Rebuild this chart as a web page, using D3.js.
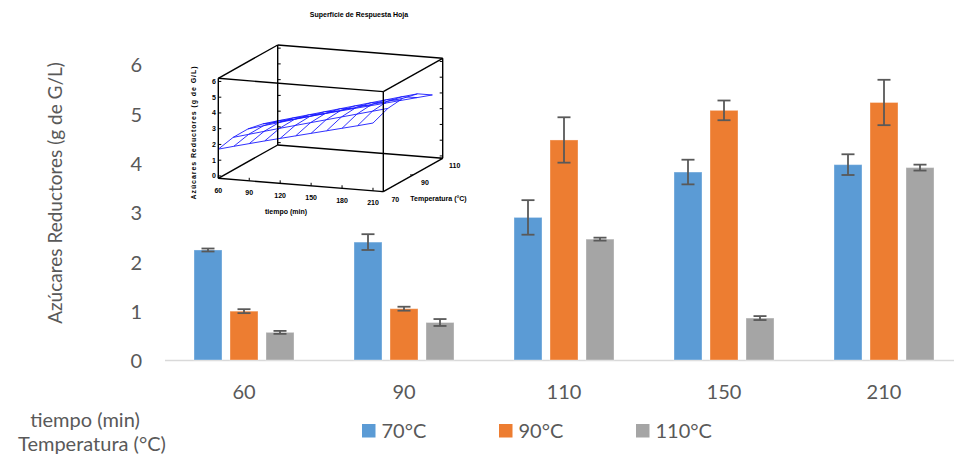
<!DOCTYPE html>
<html>
<head>
<meta charset="utf-8">
<script src="https://cdn.jsdelivr.net/npm/d3@7"></script>
<style>
  body { margin: 0; background: #fff; }
  svg { display: block; }
</style>
</head>
<body>
<div id="chart"></div>
<script>
// datos del grafico de barras
const tiempos = ["60", "90", "110", "150", "210"];
const series = ["70°C", "90°C", "110°C"];
const media70 = [2.23, 2.39, 2.89, 3.81, 3.96];
const media90 = [0.99, 1.04, 4.46, 5.06, 5.22];
const media110 = [0.56, 0.76, 2.45, 0.85, 3.90];
const err70 = [0.03, 0.16, 0.35, 0.25, 0.21];
const err90 = [0.04, 0.04, 0.46, 0.20, 0.46];
const err110 = [0.03, 0.07, 0.03, 0.04, 0.06];
const colores = ["#5b9bd5", "#ed7d31", "#a5a5a5"];
const yTicks = [0, 1, 2, 3, 4, 5, 6];

// superficie de respuesta (grafico pequeño)
const supTiempo = [60, 75, 90, 105, 120, 135, 150, 165, 180, 195, 210];
const supTemp = [70, 80, 90, 100, 110];
const supZ = [
  [1.70, 1.96, 2.21, 2.46, 2.70, 2.94, 3.18, 3.42, 3.66, 3.90, 4.15],
  [1.92, 2.19, 2.46, 2.73, 2.99, 3.25, 3.51, 3.77, 4.03, 4.29, 4.55],
  [1.93, 2.21, 2.49, 2.77, 3.04, 3.31, 3.58, 3.85, 4.12, 4.39, 4.66],
  [1.72, 2.00, 2.27, 2.54, 2.81, 3.08, 3.35, 3.62, 3.89, 4.16, 4.42],
  [1.30, 1.56, 1.82, 2.07, 2.32, 2.57, 2.82, 3.07, 3.32, 3.57, 3.82]
];
const insetTiempoTicks = [60, 90, 120, 150, 180, 210];
const insetTempTicks = [70, 90, 110];
const insetZTicks = [0, 1, 2, 3, 4, 5, 6];

const width = 954;
const height = 459;
const gris = "#595959";
const fuente = "Lato, 'Open Sans', sans-serif";

const svg = d3.select("#chart")
    .append("svg")
    .attr("width", width)
    .attr("height", height)
    .style("background", "#fff");

// escalas
const x = d3.scaleBand()
    .domain(tiempos)
    .range([164, 964]);

const xSerie = d3.scaleBand()
    .domain(series)
    .range([-50, 50])
    .paddingInner(0.2222);

const y = d3.scaleLinear()
    .domain([0, 6])
    .range([360, 64]);

// eje y (solo etiquetas)
svg.append("g")
    .selectAll("text")
    .data(yTicks)
    .join("text")
    .attr("x", 142)
    .attr("y", d => y(d) + 1)
    .attr("dy", "0.36em")
    .attr("text-anchor", "end")
    .style("font-family", fuente)
    .style("font-size", "20px")
    .style("fill", gris)
    .text(d => d);

svg.append("text")
    .attr("transform", "translate(55,193) rotate(-90)")
    .attr("text-anchor", "middle")
    .attr("dy", "0.35em")
    .style("font-family", fuente)
    .style("font-size", "19px")
    .style("fill", gris)
    .text("Azúcares Reductores (g de G/L)");

// linea base
svg.append("line")
    .attr("x1", 165)
    .attr("x2", width)
    .attr("y1", y(0) + 0.5)
    .attr("y2", y(0) + 0.5)
    .attr("stroke", "#d9d9d9")
    .attr("stroke-width", 1.3);

// barras
const medias = [media70, media90, media110];
const errores = [err70, err90, err110];
const barData = [];
series.forEach((s, i) => {
    tiempos.forEach((t, j) => {
        barData.push({serie: s, tiempo: t, v: medias[i][j], e: errores[i][j], color: colores[i]});
    });
});

svg.append("g")
    .selectAll("rect")
    .data(barData)
    .join("rect")
    .attr("x", d => x(d.tiempo) + x.bandwidth() / 2 + xSerie(d.serie))
    .attr("y", d => y(d.v))
    .attr("width", xSerie.bandwidth())
    .attr("height", d => y(0) - y(d.v))
    .attr("fill", d => d.color)
    .attr("stroke", "#fff")
    .attr("stroke-opacity", 0.35)
    .attr("stroke-width", 1);

// barras de error
const errG = svg.append("g")
    .attr("stroke", gris)
    .attr("stroke-width", 1.8)
    .attr("fill", "none");

barData.forEach(d => {
    const cx = x(d.tiempo) + x.bandwidth() / 2 + xSerie(d.serie) + xSerie.bandwidth() / 2;
    errG.append("line")
        .attr("x1", cx).attr("x2", cx)
        .attr("y1", y(d.v + d.e)).attr("y2", y(d.v - d.e));
    [d.v + d.e, d.v - d.e].forEach(v => {
        errG.append("line")
            .attr("x1", cx - 6.5).attr("x2", cx + 6.5)
            .attr("y1", y(v)).attr("y2", y(v));
    });
});

// etiquetas eje x
svg.append("g")
    .selectAll("text")
    .data(tiempos)
    .join("text")
    .attr("x", d => x(d) + x.bandwidth() / 2)
    .attr("y", 399)
    .attr("text-anchor", "middle")
    .style("font-family", fuente)
    .style("font-size", "20px")
    .style("fill", gris)
    .text(d => d);

svg.append("text")
    .attr("x", 85)
    .attr("y", 427)
    .attr("text-anchor", "middle")
    .style("font-family", fuente)
    .style("font-size", "20px")
    .style("fill", gris)
    .text("tiempo (min)");

svg.append("text")
    .attr("x", 92)
    .attr("y", 451)
    .attr("text-anchor", "middle")
    .style("font-family", fuente)
    .style("font-size", "20px")
    .style("fill", gris)
    .text("Temperatura (°C)");

// leyenda
const leyenda = svg.append("g")
    .selectAll("g")
    .data(series)
    .join("g")
    .attr("transform", (d, i) => `translate(${362 + i * 137},424)`);

leyenda.append("rect")
    .attr("width", 13.5)
    .attr("height", 13.5)
    .attr("fill", (d, i) => colores[i]);

leyenda.append("text")
    .attr("x", 19.5)
    .attr("y", 13.8)
    .style("font-family", fuente)
    .style("font-size", "20px")
    .style("fill", gris)
    .text(d => d);

// ---------- grafico 3D insertado ----------
const ins = svg.append("g");
const fuenteIns = "'Liberation Sans Narrow', 'Liberation Sans', Arial, sans-serif";

const origen = [218.3, 178.3];
const tEsc = d3.scaleLinear().domain([60, 220]).range([0, 1]);
const TEsc = d3.scaleLinear().domain([70, 110]).range([0, 1]);
const zEsc = d3.scaleLinear().domain([-0.15, 6.2]).range([0, 1]);
const ejeT = [165, 13.3];
const ejeTemp = [59.4, -33.3];
const ejeZ = [0, -100];

function proy(t, T, z) {
    const a = tEsc(t), b = TEsc(T), c = zEsc(z);
    return [origen[0] + a * ejeT[0] + b * ejeTemp[0] + c * ejeZ[0],
            origen[1] + a * ejeT[1] + b * ejeTemp[1] + c * ejeZ[1]];
}

const tD = tEsc.domain(), TD = TEsc.domain(), zD = zEsc.domain();
const aristas = [
    [[tD[0], TD[0], zD[0]], [tD[1], TD[0], zD[0]]],
    [[tD[0], TD[0], zD[1]], [tD[1], TD[0], zD[1]]],
    [[tD[0], TD[1], zD[0]], [tD[1], TD[1], zD[0]]],
    [[tD[0], TD[1], zD[1]], [tD[1], TD[1], zD[1]]],
    [[tD[0], TD[0], zD[0]], [tD[0], TD[1], zD[0]]],
    [[tD[1], TD[0], zD[0]], [tD[1], TD[1], zD[0]]],
    [[tD[0], TD[0], zD[1]], [tD[0], TD[1], zD[1]]],
    [[tD[1], TD[0], zD[1]], [tD[1], TD[1], zD[1]]],
    [[tD[0], TD[0], zD[0]], [tD[0], TD[0], zD[1]]],
    [[tD[1], TD[0], zD[0]], [tD[1], TD[0], zD[1]]],
    [[tD[0], TD[1], zD[0]], [tD[0], TD[1], zD[1]]],
    [[tD[1], TD[1], zD[0]], [tD[1], TD[1], zD[1]]]
];

const linea = d3.line();

// superficie (malla azul)
const malla = ins.append("g")
    .attr("fill", "none")
    .attr("stroke", "#1a1aff")
    .attr("stroke-width", 0.9);

supTemp.forEach((T, i) => {
    malla.append("path")
        .attr("d", linea(supTiempo.map((t, j) => proy(t, T, supZ[i][j]))));
});
supTiempo.forEach((t, j) => {
    malla.append("path")
        .attr("d", linea(supTemp.map((T, i) => proy(t, T, supZ[i][j]))));
});

// caja
ins.append("g")
    .selectAll("path")
    .data(aristas)
    .join("path")
    .attr("d", d => linea(d.map(p => proy(...p))))
    .attr("stroke", "#000")
    .attr("stroke-width", 1.4)
    .attr("fill", "none");

// marcas en eje z
const marcas = ins.append("g").attr("stroke", "#000").attr("stroke-width", 1);
insetZTicks.forEach(z => {
    const p = proy(60, 70, z);
    marcas.append("line").attr("x1", p[0]).attr("x2", p[0] + 3).attr("y1", p[1]).attr("y2", p[1]);
    const q = proy(60, 110, z);
    marcas.append("line").attr("x1", q[0]).attr("x2", q[0] + 3).attr("y1", q[1]).attr("y2", q[1]);
    const r = proy(220, 110, z);
    marcas.append("line").attr("x1", r[0]).attr("x2", r[0] - 3).attr("y1", r[1]).attr("y2", r[1]);
});
insetTiempoTicks.forEach(t => {
    const p = proy(t, 70, zD[0]);
    marcas.append("line").attr("x1", p[0]).attr("x2", p[0]).attr("y1", p[1]).attr("y2", p[1] - 3);
});
insetTempTicks.forEach(T => {
    const p = proy(220, T, zD[0]);
    marcas.append("line").attr("x1", p[0]).attr("x2", p[0] - 3).attr("y1", p[1]).attr("y2", p[1]);
});

// textos del grafico 3D
const txtIns = (sel) => sel
    .style("font-family", fuenteIns)
    .style("font-weight", "bold")
    .style("font-size", "7px")
    .style("fill", "#000");

ins.append("g")
    .selectAll("text")
    .data(insetZTicks)
    .join("text")
    .attr("x", 216)
    .attr("y", d => proy(60, 70, d)[1] + 2.5)
    .attr("text-anchor", "end")
    .call(txtIns)
    .text(d => d);

ins.append("g")
    .selectAll("text")
    .data(insetTiempoTicks)
    .join("text")
    .attr("x", d => proy(d, 70, zD[0])[0])
    .attr("y", d => proy(d, 70, zD[0])[1] + 14.5)
    .attr("text-anchor", "middle")
    .call(txtIns)
    .text(d => d);

ins.append("g")
    .selectAll("text")
    .data(insetTempTicks)
    .join("text")
    .attr("x", d => proy(220, d, zD[0])[0] + 12)
    .attr("y", d => proy(220, d, zD[0])[1] + 10)
    .attr("text-anchor", "middle")
    .call(txtIns)
    .text(d => d);

ins.append("text")
    .attr("x", 286)
    .attr("y", 214)
    .attr("text-anchor", "middle")
    .call(txtIns)
    .text("tiempo (min)");

ins.append("text")
    .attr("x", 438.5)
    .attr("y", 200.5)
    .attr("text-anchor", "middle")
    .call(txtIns)
    .text("Temperatura (°C)");

ins.append("text")
    .attr("transform", "translate(195.5,133) rotate(-90)")
    .attr("text-anchor", "middle")
    .attr("textLength", 133)
    .attr("lengthAdjust", "spacing")
    .call(txtIns)
    .text("Azúcares Reductores (g de G/L)");

ins.append("text")
    .attr("x", 359)
    .attr("y", 16.5)
    .attr("text-anchor", "middle")
    .call(txtIns)
    .text("Superficie de Respuesta Hoja");
</script>
</body>
</html>
